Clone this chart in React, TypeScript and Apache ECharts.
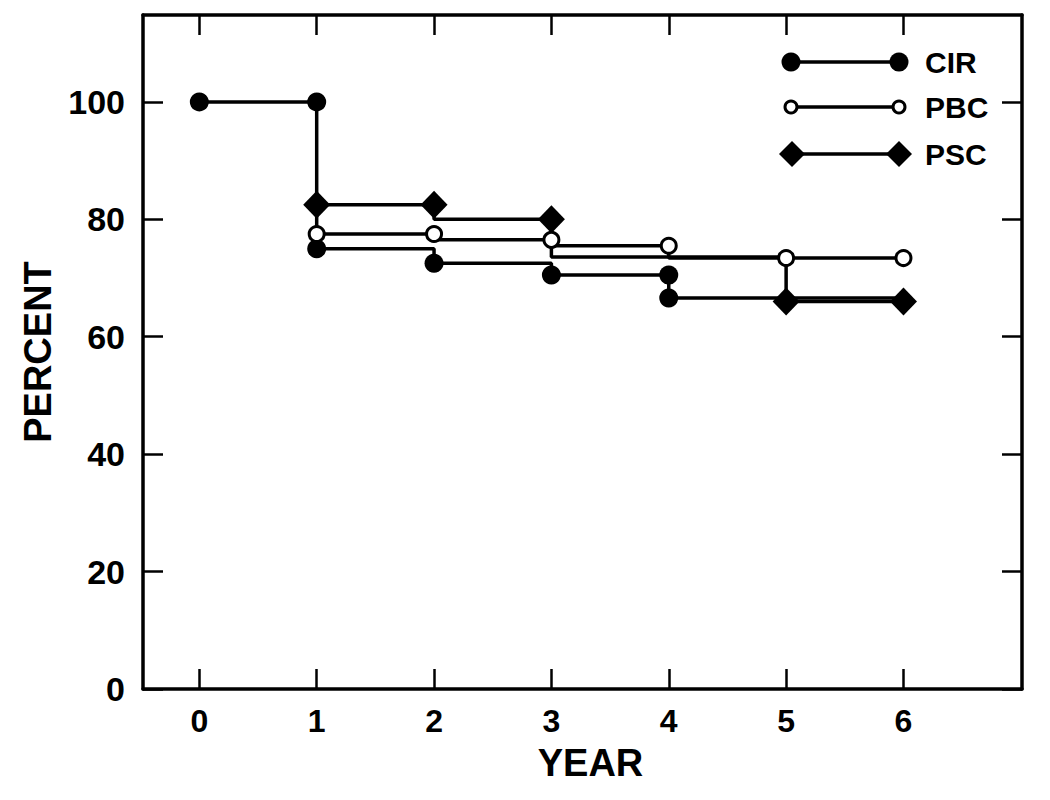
import React, { useEffect, useRef } from "react";
import * as echarts from "echarts";

const yearTicks = [0, 1, 2, 3, 4, 5, 6];
const percentTicks = [0, 20, 40, 60, 80, 100];
const seriesNames = ["CIR", "PBC", "PSC"];

// step paths [year, percent]
const cirPath = [[0, 100], [1, 100], [1, 75], [2, 75], [2, 72.5], [3, 72.5], [3, 70.5], [4, 70.5], [4, 66.6], [5, 66.6], [6, 66.6]];
const cirMarks = [[0, 100], [1, 100], [1, 75], [2, 72.5], [3, 70.5], [4, 70.5], [4, 66.6]];
const pbcPath = [[1, 77.5], [2, 77.5], [2, 76.5], [3, 76.5], [3, 75.5], [4, 75.5], [4, 73.4], [5, 73.4], [6, 73.4]];
const pbcMarks = [[1, 77.5], [2, 77.5], [3, 76.5], [4, 75.5], [5, 73.4], [6, 73.4]];
const pscPath = [[1, 82.5], [2, 82.5], [2, 80], [3, 80], [3, 73.6], [4, 73.6], [5, 73.6], [5, 66], [6, 66]];
const pscMarks = [[1, 82.5], [2, 82.5], [3, 80], [5, 66], [6, 66]];

const FONT = "'Liberation Sans', Arial, Helvetica, sans-serif";
const BLACK = "#000";

export default function App() {
  const ref = useRef<HTMLDivElement>(null);
  useEffect(() => {
    document.body.style.margin = "0";
    const chart = echarts.init(ref.current!, null, { renderer: "svg" });
    const axisLine = { show: true, onZero: false, lineStyle: { color: BLACK, width: 3.5 } };
    const tick = (vals: number[]) => ({ show: true, inside: true, length: 20, customValues: vals, lineStyle: { color: BLACK, width: 2.5 } });
    const lineSeries = (name: string, data: number[][]) => ({
      name,
      type: "line",
      data,
      symbol: "none",
      lineStyle: { color: BLACK, width: 3.5 },
      z: 2,
    });
    const legendY = [62, 107, 154];
    const lx1 = 791, lx2 = 899;
    const diamond = (cx: number, cy: number, w: number, h: number) => ({
      type: "polygon",
      shape: { points: [[cx - w / 2, cy], [cx, cy - h / 2], [cx + w / 2, cy], [cx, cy + h / 2]] },
      style: { fill: BLACK },
    });
    const graphic: any[] = [];
    legendY.forEach((y, i) => {
      graphic.push({ type: "line", shape: { x1: lx1, y1: y, x2: lx2, y2: y }, style: { stroke: BLACK, lineWidth: 3.5 } });
      if (i === 0) {
        graphic.push({ type: "circle", shape: { cx: lx1, cy: y, r: 9.5 }, style: { fill: BLACK } });
        graphic.push({ type: "circle", shape: { cx: lx2, cy: y, r: 9.5 }, style: { fill: BLACK } });
      } else if (i === 1) {
        graphic.push({ type: "circle", shape: { cx: lx1, cy: y, r: 6 }, style: { fill: "#fff", stroke: BLACK, lineWidth: 3 } });
        graphic.push({ type: "circle", shape: { cx: lx2, cy: y, r: 6 }, style: { fill: "#fff", stroke: BLACK, lineWidth: 3 } });
      } else {
        graphic.push(diamond(lx1 + 1, y, 26, 26));
        graphic.push(diamond(lx2, y, 26, 26));
      }
      graphic.push({
        type: "text",
        x: 925,
        y,
        style: { text: seriesNames[i], font: `bold 30px ${FONT}`, fill: BLACK, textVerticalAlign: "middle", textAlign: "left" },
      });
    });

    chart.setOption({
      animation: false,
      backgroundColor: "#fff",
      grid: { left: 143, top: 15, width: 879, height: 674, containLabel: false },
      xAxis: [
        {
          type: "value",
          min: -0.48,
          max: 7.01,
          position: "bottom",
          name: "YEAR",
          nameLocation: "middle",
          nameGap: 55,
          nameTextStyle: { fontSize: 38, fontWeight: "bold", color: BLACK, fontFamily: FONT, padding: [0, 0, 0, 16] },
          axisLine,
          splitLine: { show: false },
          axisTick: tick(yearTicks),
          axisLabel: { customValues: yearTicks, fontSize: 32, fontWeight: "bold", color: BLACK, fontFamily: FONT, margin: 16 },
        },
        {
          type: "value",
          min: -0.48,
          max: 7.01,
          position: "top",
          axisLine,
          splitLine: { show: false },
          axisTick: tick(yearTicks),
          axisLabel: { show: false },
        },
      ],
      yAxis: [
        {
          type: "value",
          min: 0,
          max: 114.8,
          position: "left",
          name: "PERCENT",
          nameLocation: "middle",
          nameGap: 82,
          nameRotate: 90,
          nameTextStyle: { fontSize: 38, fontWeight: "bold", color: BLACK, fontFamily: FONT },
          axisLine,
          splitLine: { show: false },
          axisTick: tick(percentTicks),
          axisLabel: { customValues: percentTicks, fontSize: 34, fontWeight: "bold", color: BLACK, fontFamily: FONT, margin: 18 },
        },
        {
          type: "value",
          min: 0,
          max: 114.8,
          position: "right",
          axisLine,
          splitLine: { show: false },
          axisTick: tick(percentTicks),
          axisLabel: { show: false },
        },
      ],
      series: [
        lineSeries("CIR", cirPath),
        lineSeries("PBC", pbcPath),
        lineSeries("PSC", pscPath),
        {
          name: "CIR",
          type: "scatter",
          data: cirMarks,
          symbol: "circle",
          symbolSize: 19,
          itemStyle: { color: BLACK, opacity: 1 },
          z: 3,
        },
        {
          name: "PBC",
          type: "scatter",
          data: pbcMarks,
          symbol: "circle",
          symbolSize: 15,
          itemStyle: { color: "#fff", borderColor: BLACK, borderWidth: 3, opacity: 1 },
          z: 4,
        },
        {
          name: "PSC",
          type: "scatter",
          data: pscMarks,
          symbol: "diamond",
          symbolSize: [27, 28],
          itemStyle: { color: BLACK, opacity: 1 },
          z: 5,
        },
      ],
      graphic,
    });
    return () => chart.dispose();
  }, []);
  return <div ref={ref} style={{ width: 1050, height: 800 }} />;
}
